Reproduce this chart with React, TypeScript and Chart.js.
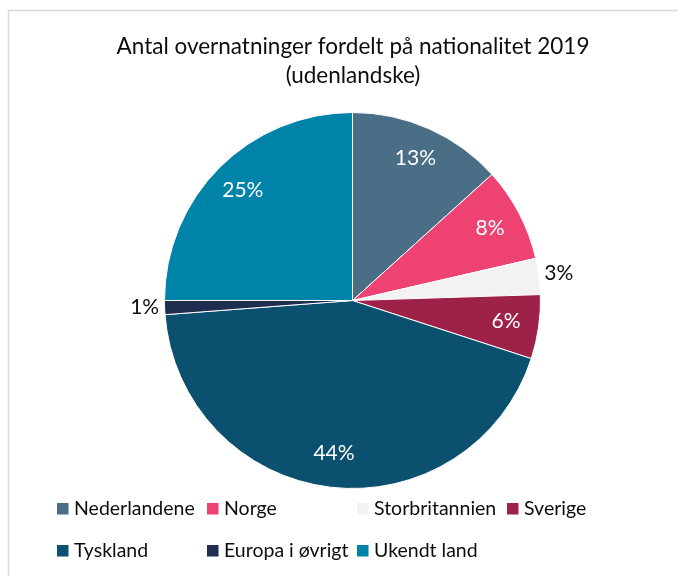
import React, { useEffect, useRef } from "react";
import { Chart, registerables } from "chart.js";

Chart.register(...registerables);

const categories = [
  "Nederlandene",
  "Norge",
  "Storbritannien",
  "Sverige",
  "Tyskland",
  "Europa i øvrigt",
  "Ukendt land",
];
const shares = [13.3, 8.1, 3.1, 5.5, 43.8, 1.2, 25.0];
const sliceColors = ["#4A6E86", "#EE4272", "#F2F2F2", "#9E2148", "#0B506E", "#1F2D4E", "#0083A9"];
const titleLines = ["Antal overnatninger fordelt på nationalitet 2019", "(udenlandske)"];

const FONT = "Lato, 'Open Sans', sans-serif";

const framePlugin = {
  id: "frame",
  beforeDraw(chart: any) {
    const ctx = chart.ctx;
    ctx.save();
    ctx.fillStyle = "#ffffff";
    ctx.fillRect(0, 0, chart.width, chart.height);
    ctx.strokeStyle = "#d9d9d9";
    ctx.lineWidth = 1.5;
    ctx.beginPath();
    ctx.moveTo(chart.width, 10.5);
    ctx.lineTo(8.5, 10.5);
    ctx.lineTo(8.5, chart.height);
    ctx.stroke();
    ctx.restore();
  },
};

const titlePlugin = {
  id: "customTitle",
  afterDraw(chart: any) {
    const ctx = chart.ctx;
    ctx.save();
    ctx.fillStyle = "#0d0d0d";
    ctx.font = `22.5px ${FONT}`;
    ctx.textAlign = "center";
    ctx.textBaseline = "alphabetic";
    const baselines = [54, 83];
    titleLines.forEach((t, i) => ctx.fillText(t, 353, baselines[i]));
    ctx.restore();
  },
};

const legendPlugin = {
  id: "gridLegend",
  afterDraw(chart: any) {
    const ctx = chart.ctx;
    const labels = chart.data.labels as string[];
    const colors = chart.data.datasets[0].backgroundColor as string[];
    const cols = 4;
    const colX0 = 57;
    const colW = 150;
    const rowBase = [514.5, 556.5];
    ctx.save();
    ctx.font = `19.5px ${FONT}`;
    ctx.textAlign = "left";
    ctx.textBaseline = "alphabetic";
    labels.forEach((lab, i) => {
      const c = i % cols;
      const r = Math.floor(i / cols);
      const x = colX0 + c * colW;
      const base = rowBase[r];
      ctx.fillStyle = colors[i];
      ctx.fillRect(x, base - 11.5, 11.5, 11.5);
      ctx.fillStyle = "#0d0d0d";
      ctx.fillText(lab, x + 17, base);
    });
    ctx.restore();
  },
};

const dataLabelPlugin = {
  id: "pctLabels",
  afterDatasetsDraw(chart: any) {
    const ctx = chart.ctx;
    const meta = chart.getDatasetMeta(0);
    const data = chart.data.datasets[0].data as number[];
    const total = data.reduce((a, b) => a + b, 0);
    ctx.save();
    ctx.font = `21px ${FONT}`;
    ctx.textAlign = "center";
    ctx.textBaseline = "middle";
    meta.data.forEach((arc: any, i: number) => {
      const p = arc.getProps(["x", "y", "startAngle", "endAngle", "outerRadius"], true);
      const pct = (data[i] / total) * 100;
      const mid = (p.startAngle + p.endAngle) / 2;
      const inside = pct >= 4;
      const r = inside ? p.outerRadius * 0.825 : p.outerRadius + 20;
      ctx.fillStyle = inside ? "#ffffff" : "#0d0d0d";
      ctx.fillText(
        Math.round(pct) + "%",
        p.x + Math.cos(mid) * r,
        p.y + Math.sin(mid) * r - 1
      );
    });
    ctx.restore();
  },
};

export default function App() {
  const canvasRef = useRef<HTMLCanvasElement | null>(null);

  useEffect(() => {
    if (!canvasRef.current) return;
    const chart = new Chart(canvasRef.current, {
      type: "pie",
      data: {
        labels: categories,
        datasets: [
          {
            data: shares,
            backgroundColor: sliceColors,
            borderColor: "#ffffff",
            borderWidth: 1,
            hoverOffset: 0,
            offset: 0,
          },
        ],
      },
      options: {
        responsive: false,
        animation: false,
        events: [],
        devicePixelRatio: 1,
        layout: { padding: { left: 164, right: 137, top: 112, bottom: 87 } },
        plugins: {
          legend: { display: false },
          title: { display: false },
          tooltip: { enabled: false },
        },
      },
      plugins: [framePlugin, titlePlugin, legendPlugin, dataLabelPlugin],
    });
    return () => chart.destroy();
  }, []);

  return (
    <div style={{ position: "fixed", left: 0, top: 0, width: 678, height: 576 }}>
      <canvas ref={canvasRef} width={678} height={576} style={{ width: 678, height: 576 }} />
    </div>
  );
}
